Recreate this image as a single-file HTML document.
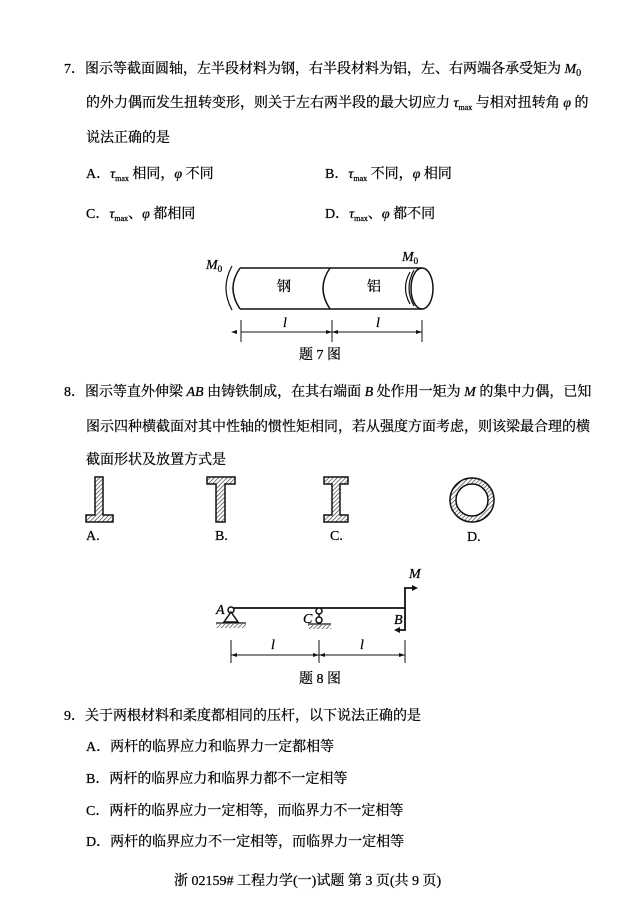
<!DOCTYPE html>
<html><head><meta charset="utf-8"><style>
body{margin:0;width:630px;height:899px;background:#fff;position:relative;font-family:"Liberation Serif","Noto Serif CJK SC","Noto Sans CJK SC",serif;color:#000;font-size:14px;}
.t{position:absolute;white-space:nowrap;line-height:16px;-webkit-text-stroke:0.25px #000}
i{font-style:italic}
sub{font-size:8px;vertical-align:-3px}
</style></head><body>
<div class="t" style="left:64px;top:62px">7．图示等截面圆轴，左半段材料为钢，右半段材料为铝，左、右两端各承受矩为 <i>M</i><sub style="font-size:10px">0</sub></div>
<div class="t" style="left:86px;top:96px">的外力偶而发生扭转变形，则关于左右两半段的最大切应力 <i>τ</i><sub>max</sub> 与相对扭转角 <i>φ</i> 的</div>
<div class="t" style="left:86px;top:131px">说法正确的是</div>
<div class="t" style="left:86px;top:167px">A．<i>τ</i><sub>max</sub> 相同，<i>φ</i> 不同</div>
<div class="t" style="left:325px;top:167px">B．<i>τ</i><sub>max</sub> 不同，<i>φ</i> 相同</div>
<div class="t" style="left:86px;top:207px">C．<i>τ</i><sub>max</sub>、<i>φ</i> 都相同</div>
<div class="t" style="left:325px;top:207px">D．<i>τ</i><sub>max</sub>、<i>φ</i> 都不同</div>

<svg style="position:absolute;left:0;top:0" width="630" height="899">
<defs><pattern id="h" width="3" height="3" patternUnits="userSpaceOnUse" patternTransform="rotate(45)"><rect width="3" height="3" fill="#fff"/><line x1="0" y1="0" x2="0" y2="3" stroke="#333" stroke-width="1.3"/></pattern></defs>
<g fill="none" stroke="#111" stroke-width="1.5">
<path d="M240 268 H422 M240 309 H422"/>
<path d="M240 268 Q226 288 240 309"/>
<path d="M330 268 Q316 288 330 309"/>
<ellipse cx="422" cy="288.5" rx="11" ry="20.5"/>
<path d="M232 266 Q220 288 232 310" stroke-width="1.2"/>
<path d="M414 270 Q404 288 414 306" stroke-width="1.2"/>
<path d="M410 272 Q401 288 410 304" stroke-width="1.2"/>
<g stroke-width="1"><path d="M241 320 V342 M332 320 V342 M422 320 V342 M241 332 H422"/></g>
<path d="M231 608 H405 V588 H414" stroke-width="1.8"/>
<path d="M405 608 V630 H398" stroke-width="1.8"/>
<g stroke-width="1"><path d="M231 640 V663 M319 640 V663 M405 640 V663 M231 655 H405"/></g>
<circle cx="231" cy="610" r="3" fill="#fff"/>
<path d="M231 612 L224 622 H238 Z" fill="#fff"/>
<circle cx="319" cy="611" r="3" fill="#fff"/><circle cx="319" cy="620" r="3" fill="#fff"/>
<path d="M319 614 V617"/>
<path d="M216 623 H246 M308 624 H331" stroke-width="1.3"/>
</g>
<path d="M216 624 H246 V628 H216Z M308 625 H331 V629 H308Z" fill="url(#h)"/>
<path d="M418 588 L412 585 L412 591Z M394 630 L400 627 L400 633Z M231 332 l6 -2 v4z M332 332 l-6 -2 v4z M332 332 l6 -2 v4z M422 332 l-6 -2 v4z M231 655 l6 -2 v4z M319 655 l-6 -2 v4z M319 655 l6 -2 v4z M405 655 l-6 -2 v4z" fill="#111"/>
<g stroke="#111" stroke-width="1.5" fill="url(#h)">
<path d="M95 477 H103 V515 H113 V522 H86 V515 H95Z"/>
<path d="M207 477 H235 V484 H225 V522 H216 V484 H207Z"/>
<path d="M324 477 H348 V484 H340 V515 H348 V522 H324 V515 H332 V484 H324Z"/>
<circle cx="472" cy="500" r="19" fill="none" stroke="url(#h)" stroke-width="6"/>
<circle cx="472" cy="500" r="22" fill="none"/><circle cx="472" cy="500" r="16" fill="none"/>
</g>
</svg>
<div class="t" style="left:206px;top:258px"><i>M</i><sub style="font-size:9px">0</sub></div>
<div class="t" style="left:402px;top:250px"><i>M</i><sub style="font-size:9px">0</sub></div>
<div class="t" style="left:277px;top:280px">钢</div>
<div class="t" style="left:367px;top:280px">铝</div>
<div class="t" style="left:283px;top:316px"><i>l</i></div>
<div class="t" style="left:376px;top:316px"><i>l</i></div>
<div class="t" style="left:299px;top:348px">题 7 图</div>

<div class="t" style="left:64px;top:385px">8．图示等直外伸梁 <i>AB</i> 由铸铁制成，在其右端面 <i>B</i> 处作用一矩为 <i>M</i> 的集中力偶，已知</div>
<div class="t" style="left:86px;top:420px">图示四种横截面对其中性轴的惯性矩相同，若从强度方面考虑，则该梁最合理的横</div>
<div class="t" style="left:86px;top:453px">截面形状及放置方式是</div>
<div class="t" style="left:86px;top:529px">A.</div>
<div class="t" style="left:215px;top:529px">B.</div>
<div class="t" style="left:330px;top:529px">C.</div>
<div class="t" style="left:467px;top:530px">D.</div>
<div class="t" style="left:409px;top:567px"><i>M</i></div>
<div class="t" style="left:216px;top:603px"><i>A</i></div>
<div class="t" style="left:303px;top:612px"><i>C</i></div>
<div class="t" style="left:394px;top:613px"><i>B</i></div>
<div class="t" style="left:271px;top:638px"><i>l</i></div>
<div class="t" style="left:360px;top:638px"><i>l</i></div>
<div class="t" style="left:299px;top:672px">题 8 图</div>

<div class="t" style="left:64px;top:709px">9．关于两根材料和柔度都相同的压杆，以下说法正确的是</div>
<div class="t" style="left:86px;top:740px">A．两杆的临界应力和临界力一定都相等</div>
<div class="t" style="left:86px;top:772px">B．两杆的临界应力和临界力都不一定相等</div>
<div class="t" style="left:86px;top:804px">C．两杆的临界应力一定相等，而临界力不一定相等</div>
<div class="t" style="left:86px;top:835px">D．两杆的临界应力不一定相等，而临界力一定相等</div>
<div class="t" style="left:174px;top:874px">浙 02159# 工程力学(一)试题 第 3 页(共 9 页)</div>
</body></html>
